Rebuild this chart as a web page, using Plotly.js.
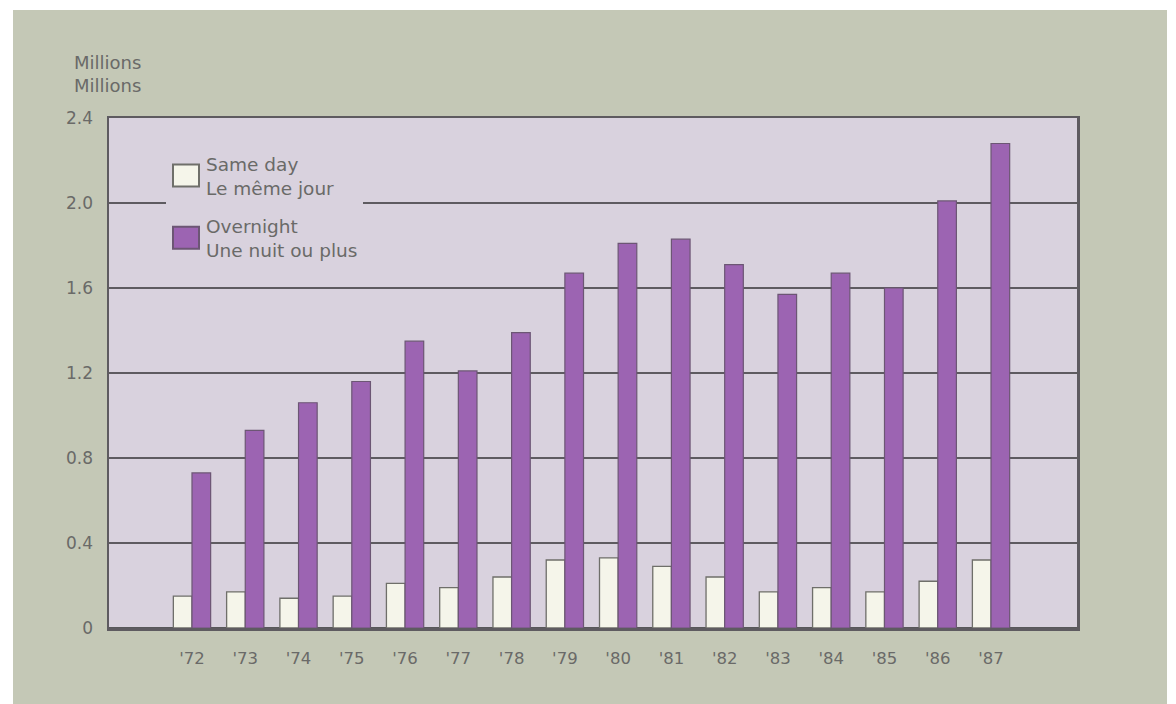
<!DOCTYPE html>
<html>
<head>
<meta charset="utf-8">
<script src="https://cdn.plot.ly/plotly-3.0.1.min.js"></script>
<style>
  html, body { margin: 0; padding: 0; background: #ffffff; }
  #chart { width: 1176px; height: 704px; }
</style>
</head>
<body>
<div id="chart"></div>
<script>
// ---- Data ----
const years = ["'72", "'73", "'74", "'75", "'76", "'77", "'78", "'79",
               "'80", "'81", "'82", "'83", "'84", "'85", "'86", "'87"];
const sameDay   = [0.15, 0.17, 0.14, 0.15, 0.21, 0.19, 0.24, 0.32,
                   0.33, 0.29, 0.24, 0.17, 0.19, 0.17, 0.22, 0.32];
const overnight = [0.73, 0.93, 1.06, 1.16, 1.35, 1.21, 1.39, 1.67,
                   1.81, 1.83, 1.71, 1.57, 1.67, 1.60, 2.01, 2.28];
const seriesNames = ["Same day<br>Le même jour", "Overnight<br>Une nuit ou plus"];
const yTickVals  = [0, 0.4, 0.8, 1.2, 1.6, 2.0, 2.4];
const yTickText  = ["0", "0.4", "0.8", "1.2", "1.6", "2.0", "2.4"];
const unitLabel  = "Millions<br>Millions";

// ---- Styles ----
const FONT = "DejaVu Sans, Liberation Sans, Arial, sans-serif";
const TEXT = "#6a6a68";
const PLOT_BG = "#d9d2de";
const PAGE_BG = "#c4c8b6";
const GRID = "#5e5b60";

// plot area in pixels: left 109, right 1077, top 118, bottom 628
const L = 109, R = 1077, T = 118, B = 628;
const W = R - L, H = B - T;
const px = x => (x - L) / W;
const py = y => (B - y) / H;

const traces = [
  {
    type: "bar", x: years, y: sameDay, name: seriesNames[0],
    legendgroup: "a",
    marker: { color: "#f5f5ea", line: { color: "#6f6f6a", width: 1.3 } },
    hoverinfo: "x+y"
  },
  {
    type: "bar", x: years, y: overnight, name: seriesNames[1],
    legendgroup: "b",
    marker: { color: "#9c64b2", line: { color: "#6c5674", width: 1.2 } },
    hoverinfo: "x+y"
  }
];

const layout = {
  width: 1176, height: 704,
  margin: { l: L, r: 1176 - R, t: T, b: 704 - B, pad: 0 },
  paper_bgcolor: "#ffffff",
  plot_bgcolor: "rgba(0,0,0,0)",
  font: { family: FONT, color: TEXT, size: 16 },
  barmode: "group",
  bargap: 0.3,
  bargroupgap: 0,
  showlegend: true,
  legend: {
    x: px(166), y: py(145), xanchor: "left", yanchor: "top",
    bgcolor: PLOT_BG, borderwidth: 0,
    font: { family: FONT, size: 18.5, color: TEXT },
    traceorder: "grouped", tracegroupgap: 11,
    valign: "middle"
  },
  xaxis: {
    type: "category",
    range: [-1.558, 16.614],
    showgrid: false, zeroline: false,
    showline: true, mirror: true, linecolor: GRID, linewidth: 2.5,
    ticks: "", ticklabelstandoff: 14,
    tickfont: { family: FONT, size: 16.5, color: TEXT },
    fixedrange: true
  },
  yaxis: {
    range: [0, 2.4],
    tickvals: yTickVals, ticktext: yTickText,
    showgrid: true, gridcolor: GRID, gridwidth: 2,
    zeroline: true, zerolinecolor: "#58585a", zerolinewidth: 3,
    showline: true, mirror: true, linecolor: GRID, linewidth: 2.5,
    ticks: "", ticklabelstandoff: 10,
    tickfont: { family: FONT, size: 17, color: TEXT },
    fixedrange: true
  },
  shapes: [
    { type: "rect", xref: "paper", yref: "paper", layer: "below",
      x0: px(13), x1: px(1167), y0: py(704), y1: py(10),
      fillcolor: PAGE_BG, line: { width: 0 } },
    { type: "rect", xref: "paper", yref: "paper", layer: "below",
      x0: 0, x1: 1, y0: 0, y1: 1,
      fillcolor: PLOT_BG, line: { width: 0 } }
  ],
  annotations: [
    { text: unitLabel, xref: "paper", yref: "paper",
      x: px(72), y: py(50), xanchor: "left", yanchor: "top",
      align: "left", showarrow: false,
      font: { family: FONT, size: 18, color: TEXT } }
  ]
};

Plotly.newPlot("chart", traces, layout, { displayModeBar: false, staticPlot: true })
  .then(function (gd) {
    // enlarge the legend keys to match the larger swatches of the reference
    gd.querySelectorAll(".legend .legendpoints path").forEach(function (p) {
      p.setAttribute("d", "M13,11H-13V-11H13Z");
      p.style.strokeWidth = "2px";
    });
  });
</script>
</body>
</html>
